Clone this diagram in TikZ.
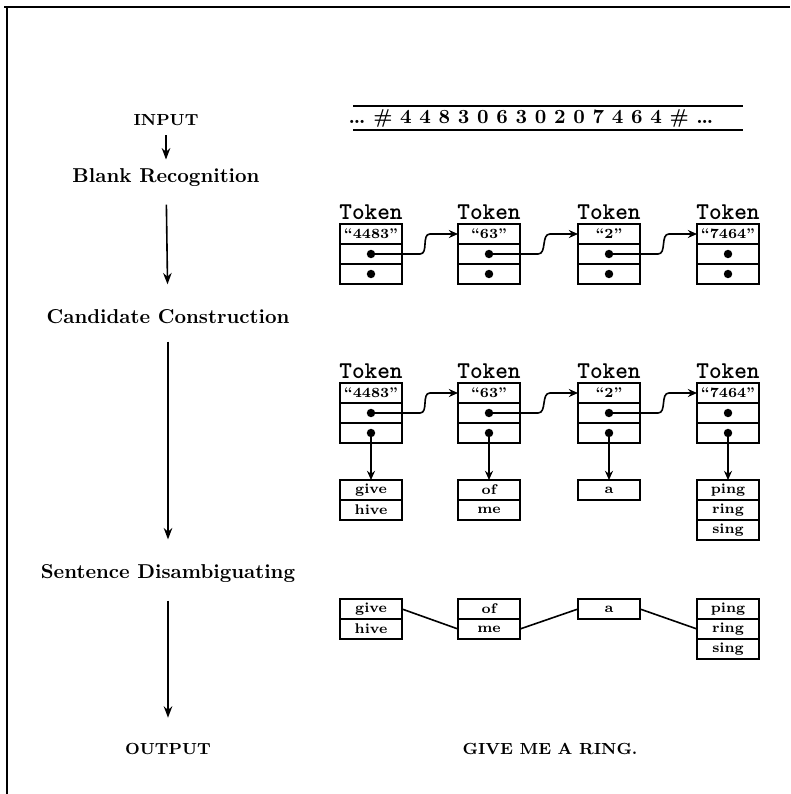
\documentclass[tikz,border=0pt]{standalone}
\usetikzlibrary{arrows.meta,positioning,calc}

\begin{document}
\begin{tikzpicture}[
  x=0.0175cm, y=-0.0175cm,
  thick,
  stage/.style={font=\bfseries},
  io/.style={font=\footnotesize\bfseries},
  cell/.style={draw, minimum width=1.085cm, minimum height=0.35cm, inner sep=0pt, outer sep=0pt, font=\scriptsize\bfseries},
  tok/.style={font=\large\ttfamily\bfseries, inner sep=1pt},
  flow/.style={-{Stealth[length=2mm,width=1.5mm]}, shorten <=5pt, shorten >=9pt},
  nxt/.style={-{Stealth[length=1.6mm,width=1.4mm]}}
]
\useasboundingbox (0,0) rectangle (790,794);
% frame (top and left edges only)
\draw[line width=1.4pt] (4,7) -- (790,7);
\draw[line width=1.4pt] (7,7) -- (7,794);

% stages on the left
\node[io]    (in) at (166,120) {INPUT};
\node[stage] (br) at (166,178) {Blank Recognition};
\node[stage] (cc) at (168,317) {Candidate Construction};
\node[stage] (sd) at (168,574) {Sentence Disambiguating};
\node[io]    (out) at (168,749) {OUTPUT};
\draw[flow, shorten <=1pt, shorten >=1pt] (in) -- (br);
\draw[flow] (br) -- (cc);
\draw[flow] (cc) -- (sd);
\draw[flow] (sd) -- (out);

% input tape
\node[stage] (tape) at (531,118) {\ldots\ \# 4 4 8 3 0 6 3 0 2 0 7 4 6 4 \# \ldots};
\draw[line width=1.4pt] (353,106) -- (743,106);
\draw[line width=1.4pt] (353,130) -- (743,130);

% tokens after blank recognition
\node[cell] (ta1) at (371,234) {``4483''};
\node[cell, below=0pt of ta1] (tb1) {};
\node[cell, below=0pt of tb1] (tc1) {};
\node[cell] (ta2) at (489,234) {``63''};
\node[cell, below=0pt of ta2] (tb2) {};
\node[cell, below=0pt of tb2] (tc2) {};
\node[cell] (ta3) at (609,234) {``2''};
\node[cell, below=0pt of ta3] (tb3) {};
\node[cell, below=0pt of tb3] (tc3) {};
\node[cell] (ta4) at (728,234) {``7464''};
\node[cell, below=0pt of ta4] (tb4) {};
\node[cell, below=0pt of tb4] (tc4) {};
\node[tok, above=1pt of ta1] (tl1) {Token};
\node[tok, above=1pt of ta2] (tl2) {Token};
\node[tok, above=1pt of ta3] (tl3) {Token};
\node[tok, above=1pt of ta4] (tl4) {Token};
\fill (tb1) circle (2.1pt) (tc1) circle (2.1pt);
\fill (tb2) circle (2.1pt) (tc2) circle (2.1pt);
\fill (tb3) circle (2.1pt) (tc3) circle (2.1pt);
\fill (tb4) circle (2.1pt) (tc4) circle (2.1pt);
\draw[nxt] (tb1.center) -- ++(49,0) to[out=0,in=180] ($(ta2.west)+(-28,0)$) -- (ta2.west);
\draw[nxt] (tb2.center) -- ++(49,0) to[out=0,in=180] ($(ta3.west)+(-28,0)$) -- (ta3.west);
\draw[nxt] (tb3.center) -- ++(49,0) to[out=0,in=180] ($(ta4.west)+(-28,0)$) -- (ta4.west);

% tokens after candidate construction
\node[cell] (ua1) at (371,393) {``4483''};
\node[cell, below=0pt of ua1] (ub1) {};
\node[cell, below=0pt of ub1] (uc1) {};
\node[cell] (ua2) at (489,393) {``63''};
\node[cell, below=0pt of ua2] (ub2) {};
\node[cell, below=0pt of ub2] (uc2) {};
\node[cell] (ua3) at (609,393) {``2''};
\node[cell, below=0pt of ua3] (ub3) {};
\node[cell, below=0pt of ub3] (uc3) {};
\node[cell] (ua4) at (728,393) {``7464''};
\node[cell, below=0pt of ua4] (ub4) {};
\node[cell, below=0pt of ub4] (uc4) {};
\node[tok, above=1pt of ua1] (ul1) {Token};
\node[tok, above=1pt of ua2] (ul2) {Token};
\node[tok, above=1pt of ua3] (ul3) {Token};
\node[tok, above=1pt of ua4] (ul4) {Token};
\fill (ub1) circle (2.1pt) (uc1) circle (2.1pt);
\fill (ub2) circle (2.1pt) (uc2) circle (2.1pt);
\fill (ub3) circle (2.1pt) (uc3) circle (2.1pt);
\fill (ub4) circle (2.1pt) (uc4) circle (2.1pt);
\draw[nxt] (ub1.center) -- ++(49,0) to[out=0,in=180] ($(ua2.west)+(-28,0)$) -- (ua2.west);
\draw[nxt] (ub2.center) -- ++(49,0) to[out=0,in=180] ($(ua3.west)+(-28,0)$) -- (ua3.west);
\draw[nxt] (ub3.center) -- ++(49,0) to[out=0,in=180] ($(ua4.west)+(-28,0)$) -- (ua4.west);

% candidate words
\node[cell] (c1a) at (371,490) {give};
\node[cell, below=0pt of c1a] (c1b) {hive};
\node[cell] (c2a) at (489,490) {of};
\node[cell, below=0pt of c2a] (c2b) {me};
\node[cell] (c3a) at (609,490) {a};
\node[cell] (c4a) at (728,490) {ping};
\node[cell, below=0pt of c4a] (c4b) {ring};
\node[cell, below=0pt of c4b] (c4c) {sing};
\draw[nxt] (uc1.center) -- (c1a.north);
\draw[nxt] (uc2.center) -- (c2a.north);
\draw[nxt] (uc3.center) -- (c3a.north);
\draw[nxt] (uc4.center) -- (c4a.north);

% disambiguated path
\node[cell] (d1a) at (371,609) {give};
\node[cell, below=0pt of d1a] (d1b) {hive};
\node[cell] (d2a) at (489,609) {of};
\node[cell, below=0pt of d2a] (d2b) {me};
\node[cell] (d3a) at (609,609) {a};
\node[cell] (d4a) at (728,609) {ping};
\node[cell, below=0pt of d4a] (d4b) {ring};
\node[cell, below=0pt of d4b] (d4c) {sing};
\draw (d1a.east) -- (d2b.west);
\draw (d2b.east) -- (d3a.west);
\draw (d3a.east) -- (d4b.west);

\node[io] (res) at (550,749) {GIVE ME A RING.};
\end{tikzpicture}
\end{document}
